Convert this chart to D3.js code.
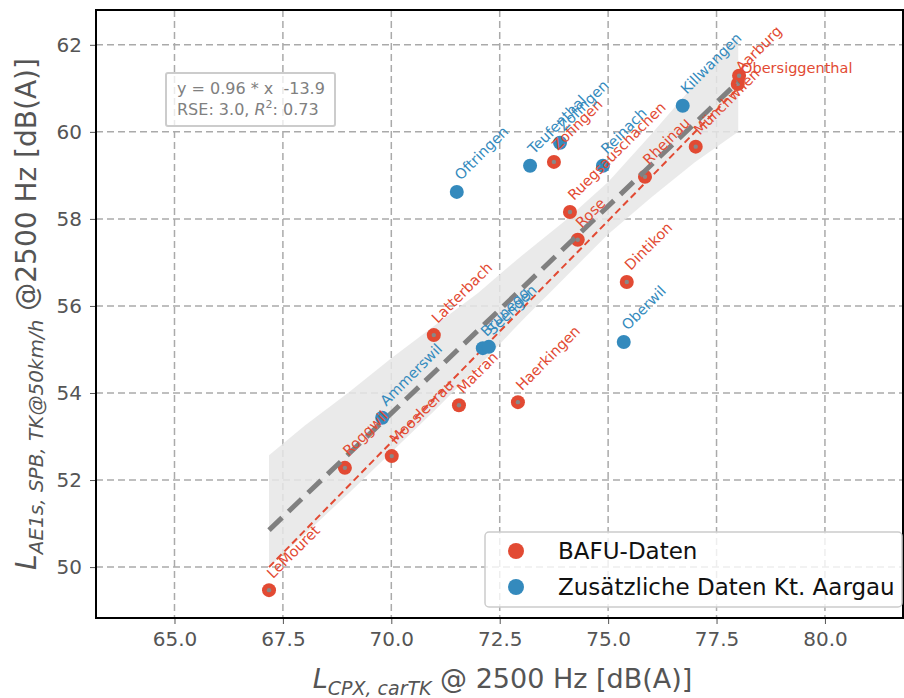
<!DOCTYPE html>
<html>
<head>
<meta charset="utf-8">
<script src="https://cdn.jsdelivr.net/npm/d3@7"></script>
<style>
  body { margin: 0; background: #fff; }
  text { font-family: "DejaVu Sans", sans-serif; }
</style>
</head>
<body>
<script>
// BAFU data (red)
var bafuNames = ["LeMouret", "Roggwil", "Moosleerau", "Matran", "Haerkingen", "Latterbach", "Rose",
  "Ruegsauschachen", "Dintikon", "Rheinau", "Münchwilen", "Zofingen", "Aarburg", "Obersiggenthal"];
var bafuX = [67.18, 68.93, 70.01, 71.56, 72.92, 70.98, 74.30, 74.12, 75.43, 75.85, 77.02, 73.75, 77.99, 78.02];
var bafuY = [49.47, 52.28, 52.55, 53.72, 53.79, 55.33, 57.52, 58.16, 56.55, 58.97, 59.66, 59.31, 61.10, 61.29];

// extra data canton Aargau (blue)
var aargauNames = ["Ammerswil", "Brunegg", "Seengen", "Oberwil", "Oftringen", "Teufenthal", "Zofingen", "Reinach", "Killwangen"];
var aargauX = [69.79, 72.11, 72.25, 75.36, 71.51, 73.20, 73.89, 74.88, 76.72];
var aargauY = [53.43, 55.03, 55.06, 55.17, 58.62, 59.22, 59.75, 59.22, 60.60];

// labels that are not rotated
var flatLabels = ["Obersiggenthal"];

// regression line (all data) and its confidence band
var fitX = [67.18, 78.0];
var fitY = [50.85, 61.15];
var bandX = [67.18, 68, 69, 70, 71, 72, 73, 74, 75, 76, 77, 78];
var bandLow = [50.0, 50.75, 51.68, 52.64, 53.6, 54.6, 55.65, 56.65, 57.65, 58.5, 59.3, 60.0];
var bandHigh = [52.57, 53.25, 54.0, 54.8, 55.55, 56.3, 57.15, 57.95, 58.85, 59.95, 61.1, 62.18];

// BAFU-only line (red dashed)
var bafuLineX = [67.18, 78.0];
var bafuLineY = [50.0, 61.01];

var xTicks = [65.0, 67.5, 70.0, 72.5, 75.0, 77.5, 80.0];
var yTicks = [50, 52, 54, 56, 58, 60, 62];

var red = "#E24A33", blue = "#348ABD";
var W = 904, H = 698;
var plot = { left: 96, top: 10, right: 903, bottom: 618 };

var svg = d3.select("body").append("svg").attr("width", W).attr("height", H);

var x = d3.scaleLinear().domain([63.19, 81.8]).range([plot.left, plot.right]);
var y = d3.scaleLinear().domain([48.83, 62.8]).range([plot.bottom, plot.top]);

// grid
svg.append("g").selectAll("line").data(xTicks).enter().append("line")
  .attr("x1", function(d){ return x(d); }).attr("x2", function(d){ return x(d); })
  .attr("y1", plot.top).attr("y2", plot.bottom)
  .attr("stroke", "#aaaaaa").attr("stroke-width", 1.5).attr("stroke-dasharray", "7,4");
svg.append("g").selectAll("line").data(yTicks).enter().append("line")
  .attr("y1", function(d){ return y(d); }).attr("y2", function(d){ return y(d); })
  .attr("x1", plot.left).attr("x2", plot.right)
  .attr("stroke", "#aaaaaa").attr("stroke-width", 1.5).attr("stroke-dasharray", "7,4");

// axes
var xAxis = svg.append("g").attr("transform", "translate(0," + plot.bottom + ")")
  .call(d3.axisBottom(x).tickValues(xTicks).tickFormat(d3.format(".1f")).tickSize(6).tickPadding(8));
var yAxis = svg.append("g").attr("transform", "translate(" + plot.left + ",0)")
  .call(d3.axisLeft(y).tickValues(yTicks).tickSize(6).tickPadding(8));
[xAxis, yAxis].forEach(function(a){
  a.select(".domain").remove();
  a.selectAll("line").attr("stroke", "#555");
  a.selectAll("text").attr("fill", "#555").style("font-size", "20px").style("font-family", "DejaVu Sans");
});

// confidence band
var band = bandX.map(function(d, i){ return [d, bandLow[i], bandHigh[i]]; });
svg.append("path").datum(band)
  .attr("d", d3.area().x(function(d){ return x(d[0]); }).y0(function(d){ return y(d[1]); }).y1(function(d){ return y(d[2]); }))
  .attr("fill", "#e6e6e6").attr("opacity", 0.85);

// red points
svg.append("g").selectAll("circle").data(bafuX).enter().append("circle")
  .attr("cx", function(d){ return x(d); }).attr("cy", function(d, i){ return y(bafuY[i]); })
  .attr("r", 7).attr("fill", red);
svg.append("g").selectAll("circle").data(bafuX).enter().append("circle")
  .attr("cx", function(d){ return x(d); }).attr("cy", function(d, i){ return y(bafuY[i]); })
  .attr("r", 2.2).attr("fill", "#888");

// fit line
var line = d3.line().x(function(d){ return x(d[0]); }).y(function(d){ return y(d[1]); });
svg.append("path").datum(fitX.map(function(d, i){ return [d, fitY[i]]; }))
  .attr("d", line).attr("stroke", "#808080").attr("stroke-width", 5).attr("fill", "none")
  .attr("stroke-dasharray", "18,9");
svg.append("path").datum(bafuLineX.map(function(d, i){ return [d, bafuLineY[i]]; }))
  .attr("d", line).attr("stroke", red).attr("stroke-width", 2).attr("fill", "none")
  .attr("stroke-dasharray", "7,4");

// blue points
svg.append("g").selectAll("circle").data(aargauX).enter().append("circle")
  .attr("cx", function(d){ return x(d); }).attr("cy", function(d, i){ return y(aargauY[i]); })
  .attr("r", 7).attr("fill", blue);

// point labels
function addLabels(names, xs, ys, colour) {
  svg.append("g").selectAll("text").data(names).enter().append("text")
    .attr("transform", function(d, i){
      var px = x(xs[i]), py = y(ys[i]);
      if (flatLabels.indexOf(d) > -1) return "translate(" + (px + 2) + "," + (py - 3) + ")";
      return "translate(" + (px + 4) + "," + (py - 11) + ") rotate(-45)";
    })
    .attr("fill", colour).style("font-size", "14.5px").text(function(d){ return d; });
}
addLabels(bafuNames, bafuX, bafuY, red);
addLabels(aargauNames, aargauX, aargauY, blue);

// frame
svg.append("rect").attr("x", plot.left).attr("y", plot.top)
  .attr("width", plot.right - plot.left).attr("height", plot.bottom - plot.top)
  .attr("fill", "none").attr("stroke", "#000").attr("stroke-width", 2);

// fit annotation box
var ann = svg.append("g").attr("transform", "translate(166,73)");
ann.append("rect").attr("width", 169).attr("height", 53).attr("rx", 2)
  .attr("fill", "#fff").attr("fill-opacity", 0.75).attr("stroke", "#cccccc").attr("stroke-width", 2);
ann.append("text").attr("x", 11).attr("y", 21).attr("fill", "#808080").style("font-size", "16px")
  .text("y = 0.96 * x  -13.9").attr("xml:space", "preserve");
var t2 = ann.append("text").attr("x", 11).attr("y", 42).attr("fill", "#808080").style("font-size", "16px");
t2.append("tspan").text("RSE: 3.0, ");
t2.append("tspan").style("font-style", "italic").text("R");
t2.append("tspan").attr("dy", -7).style("font-size", "11px").text("2");
t2.append("tspan").attr("dy", 7).text(": 0.73");

// legend
var leg = svg.append("g").attr("transform", "translate(485,532)");
leg.append("rect").attr("width", 417).attr("height", 75).attr("rx", 4)
  .attr("fill", "#fff").attr("fill-opacity", 0.8).attr("stroke", "#cccccc").attr("stroke-width", 1.5);
[["BAFU-Daten", red], ["Zusätzliche Daten Kt. Aargau", blue]].forEach(function(d, i){
  leg.append("circle").attr("cx", 31).attr("cy", 19 + i * 36).attr("r", 8).attr("fill", d[1]);
  leg.append("text").attr("x", 73).attr("y", 27 + i * 36).attr("fill", "#111").style("font-size", "23px").text(d[0]);
});

// axis titles
var xl = svg.append("text").attr("x", (plot.left + plot.right) / 2 + 3).attr("y", 688)
  .attr("text-anchor", "middle").attr("fill", "#555").style("font-size", "27px");
xl.append("tspan").style("font-style", "italic").text("L");
xl.append("tspan").attr("dy", 7).style("font-style", "italic").style("font-size", "19px").text("CPX, carTK");
xl.append("tspan").attr("dy", -7).text(" @ 2500 Hz [dB(A)]");

var yl = svg.append("text").attr("transform", "translate(36," + ((plot.top + plot.bottom) / 2) + ") rotate(-90)")
  .attr("text-anchor", "middle").attr("fill", "#555").style("font-size", "28px");
yl.append("tspan").style("font-style", "italic").text("L");
yl.append("tspan").attr("dy", 7).style("font-style", "italic").style("font-size", "20px").text("AE1s, SPB, TK@50km/h");
yl.append("tspan").attr("dy", -7).text(" @2500 Hz [dB(A)]");
</script>
</body>
</html>
